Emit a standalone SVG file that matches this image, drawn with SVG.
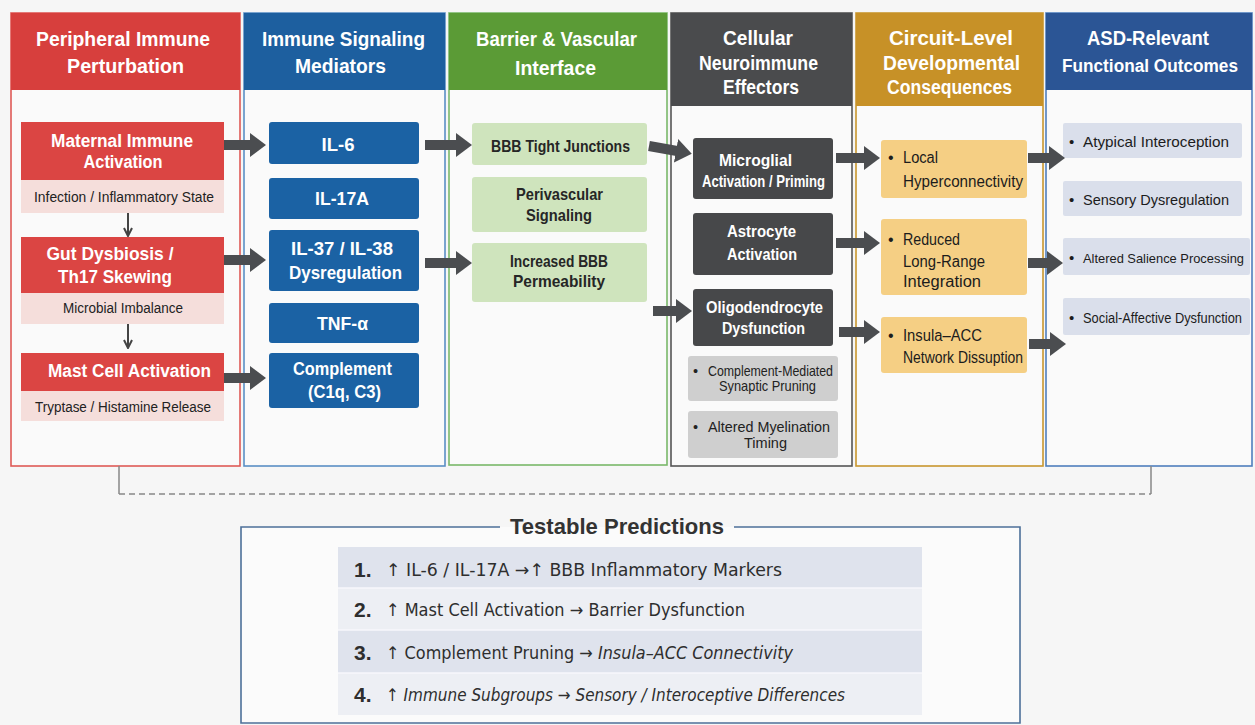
<svg xmlns="http://www.w3.org/2000/svg" width="1255" height="725" viewBox="0 0 1255 725">
<defs>
<marker id="ah" viewBox="0 0 16 24" markerWidth="16" markerHeight="24" refX="1" refY="12" orient="auto" markerUnits="userSpaceOnUse"><path d="M0,0 L16,12 L0,24 Z" fill="#4b4d50"/></marker>
<marker id="sh" viewBox="0 0 10 10" markerWidth="10" markerHeight="10" refX="9" refY="5" orient="auto" markerUnits="userSpaceOnUse"><path d="M1,1 L9,5 L1,9" fill="none" stroke="#444" stroke-width="2"/></marker>
<style>
text{font-family:"Liberation Sans",Arial,sans-serif}
.hdr{font-weight:bold;font-size:20px;fill:#fff;text-anchor:middle}
.hdrs{font-weight:bold;font-size:18px;fill:#fff;text-anchor:middle}
.wb{font-weight:bold;font-size:18px;fill:#fff;text-anchor:middle}
.wg{font-weight:bold;font-size:17px;fill:#fff;text-anchor:middle}
.sub{font-size:15.5px;fill:#222;text-anchor:middle}
.gb{font-weight:bold;font-size:17px;fill:#262626;text-anchor:middle}
.lg{font-size:14.5px;fill:#222}
.lgc{font-size:14.5px;fill:#222;text-anchor:middle}
.it{font-size:16px;fill:#1c1c1c}
.nv{font-size:15px;fill:#1c1c1c}
.nvs{font-size:14px;fill:#1c1c1c}
.nvx{font-size:13px;fill:#1c1c1c}
.body{fill:#fafafa;stroke-width:1.6}
.fat{stroke:#4b4d50;stroke-width:10;fill:none;marker-end:url(#ah)}
.thin{stroke:#444;stroke-width:2;fill:none;marker-end:url(#sh)}
.num{font-weight:bold;font-size:21px;fill:#2e2e2e}
.pr{font-family:"DejaVu Sans",sans-serif;font-size:17.5px;fill:#2e2e2e}
.pri{font-family:"DejaVu Sans",sans-serif;font-size:17.5px;fill:#2e2e2e;font-style:italic}
</style>
</defs>
<rect x="0" y="0" width="1255" height="725" fill="#f6f6f6"/>

<!-- Column 1 -->
<g id="col-peripheral">
<rect class="body" x="11" y="13" width="229" height="453" stroke="#df5a57"/>
<rect x="11" y="13" width="229" height="77" fill="#d73f3d"/>
<text class="hdr" x="123" y="46" textLength="174" lengthAdjust="spacingAndGlyphs">Peripheral Immune</text>
<text class="hdr" x="125.5" y="73" textLength="117" lengthAdjust="spacingAndGlyphs">Perturbation</text>
</g>
<g id="node-mia">
<rect x="21" y="122" width="203" height="58" fill="#db4543"/>
<rect x="21" y="180" width="203" height="33" fill="#f5dedb"/>
<text class="wb" x="122" y="147" textLength="142" lengthAdjust="spacingAndGlyphs">Maternal Immune</text>
<text class="wb" x="123" y="168" textLength="79" lengthAdjust="spacingAndGlyphs">Activation</text>
<text class="sub" x="124" y="202" textLength="180" lengthAdjust="spacingAndGlyphs">Infection / Inflammatory State</text>
</g>
<g id="node-gut">
<rect x="21" y="237" width="203" height="56" fill="#db4543"/>
<rect x="21" y="293" width="203" height="31" fill="#f5dedb"/>
<text class="wb" x="110" y="260" textLength="127" lengthAdjust="spacingAndGlyphs">Gut Dysbiosis /</text>
<text class="wb" x="115" y="283" textLength="114" lengthAdjust="spacingAndGlyphs">Th17 Skewing</text>
<text class="sub" x="123" y="313" textLength="120" lengthAdjust="spacingAndGlyphs">Microbial Imbalance</text>
</g>
<g id="node-mast">
<rect x="21" y="353" width="203" height="38" fill="#db4543"/>
<rect x="21" y="391" width="203" height="30" fill="#f5dedb"/>
<text class="wb" x="129.5" y="377" textLength="163" lengthAdjust="spacingAndGlyphs">Mast Cell Activation</text>
<text class="sub" x="123" y="412" textLength="176" lengthAdjust="spacingAndGlyphs">Tryptase / Histamine Release</text>
</g>

<!-- Column 2 -->
<g id="col-mediators">
<rect class="body" x="244" y="13" width="201" height="453" stroke="#5b8fc5"/>
<rect x="244" y="13" width="201" height="77" fill="#1d5f9f"/>
<text class="hdr" x="343.5" y="46" textLength="163" lengthAdjust="spacingAndGlyphs">Immune Signaling</text>
<text class="hdr" x="340.5" y="73" textLength="91" lengthAdjust="spacingAndGlyphs">Mediators</text>
</g>
<g id="node-il6"><rect x="269" y="122" width="150" height="42" rx="3" fill="#1b62a4"/>
<text class="wb" x="338" y="151" textLength="33" lengthAdjust="spacingAndGlyphs">IL-6</text></g>
<g id="node-il17"><rect x="269" y="178" width="150" height="41" rx="3" fill="#1b62a4"/>
<text class="wb" x="342" y="205" textLength="54" lengthAdjust="spacingAndGlyphs">IL-17A</text></g>
<g id="node-il37"><rect x="269" y="230" width="150" height="61" rx="3" fill="#1b62a4"/>
<text class="wb" x="342" y="255" textLength="102" lengthAdjust="spacingAndGlyphs">IL-37 / IL-38</text>
<text class="wb" x="345.5" y="279" textLength="113" lengthAdjust="spacingAndGlyphs">Dysregulation</text></g>
<g id="node-tnf"><rect x="269" y="303" width="150" height="40" rx="3" fill="#1b62a4"/>
<text class="wb" x="342.5" y="330" textLength="51" lengthAdjust="spacingAndGlyphs">TNF-α</text></g>
<g id="node-complement"><rect x="269" y="353" width="150" height="55" rx="3" fill="#1b62a4"/>
<text class="wb" x="342.5" y="375" textLength="99" lengthAdjust="spacingAndGlyphs">Complement</text>
<text class="wb" x="344.5" y="398" textLength="73" lengthAdjust="spacingAndGlyphs">(C1q, C3)</text></g>

<!-- Column 3 -->
<g id="col-barrier">
<rect class="body" x="449" y="13" width="218" height="452" stroke="#7ab86a"/>
<rect x="449" y="13" width="218" height="77" fill="#5b9b36"/>
<text class="hdr" x="556.5" y="46" textLength="161" lengthAdjust="spacingAndGlyphs">Barrier &amp; Vascular</text>
<text class="hdr" x="555.5" y="75" textLength="81" lengthAdjust="spacingAndGlyphs">Interface</text>
</g>
<g id="node-bbb"><rect x="472" y="123" width="175" height="42" rx="3" fill="#cfe4bd"/>
<text class="gb" x="560.5" y="152" textLength="139" lengthAdjust="spacingAndGlyphs">BBB Tight Junctions</text></g>
<g id="node-perivascular"><rect x="472" y="177" width="175" height="55" rx="3" fill="#cfe4bd"/>
<text class="gb" x="559.5" y="200" textLength="87" lengthAdjust="spacingAndGlyphs">Perivascular</text>
<text class="gb" x="559" y="221" textLength="66" lengthAdjust="spacingAndGlyphs">Signaling</text></g>
<g id="node-permeability"><rect x="472" y="243" width="175" height="59" rx="3" fill="#cfe4bd"/>
<text class="gb" x="559" y="267" textLength="98" lengthAdjust="spacingAndGlyphs">Increased BBB</text>
<text class="gb" x="559" y="287" textLength="92" lengthAdjust="spacingAndGlyphs">Permeability</text></g>

<!-- Column 4 -->
<g id="col-cellular">
<rect class="body" x="671" y="13" width="181" height="453" stroke="#555"/>
<rect x="671" y="13" width="181" height="93" fill="#4a4b4d"/>
<text class="hdr" x="758" y="45" textLength="70" lengthAdjust="spacingAndGlyphs">Cellular</text>
<text class="hdr" x="758.5" y="70" textLength="119" lengthAdjust="spacingAndGlyphs">Neuroimmune</text>
<text class="hdr" x="761" y="94" textLength="76" lengthAdjust="spacingAndGlyphs">Effectors</text>
</g>
<g id="node-microglia"><rect x="693" y="138" width="140" height="61" rx="3" fill="#47484a"/>
<text class="wg" x="755.5" y="166" textLength="73" lengthAdjust="spacingAndGlyphs">Microglial</text>
<text class="wg" x="763.5" y="187" textLength="123" lengthAdjust="spacingAndGlyphs">Activation / Priming</text></g>
<g id="node-astrocyte"><rect x="693" y="213" width="140" height="62" rx="3" fill="#47484a"/>
<text class="wg" x="761.5" y="237" textLength="69" lengthAdjust="spacingAndGlyphs">Astrocyte</text>
<text class="wg" x="762" y="260" textLength="70" lengthAdjust="spacingAndGlyphs">Activation</text></g>
<g id="node-oligo"><rect x="693" y="289" width="140" height="57" rx="3" fill="#47484a"/>
<text class="wg" x="764.5" y="313" textLength="117" lengthAdjust="spacingAndGlyphs">Oligodendrocyte</text>
<text class="wg" x="763.5" y="334" textLength="83" lengthAdjust="spacingAndGlyphs">Dysfunction</text></g>
<g id="node-pruning"><rect x="688" y="356" width="150" height="45" rx="3" fill="#cfcfcf"/>
<text class="lg" x="693" y="376">•</text>
<text class="lg" x="708" y="376" textLength="125" lengthAdjust="spacingAndGlyphs">Complement-Mediated</text>
<text class="lgc" x="767.5" y="391" textLength="97" lengthAdjust="spacingAndGlyphs">Synaptic Pruning</text></g>
<g id="node-myelination"><rect x="688" y="411" width="150" height="47" rx="3" fill="#cfcfcf"/>
<text class="lg" x="693" y="432">•</text>
<text class="lg" x="708" y="432" textLength="122" lengthAdjust="spacingAndGlyphs">Altered Myelination</text>
<text class="lgc" x="765.5" y="448" textLength="43" lengthAdjust="spacingAndGlyphs">Timing</text></g>

<!-- Column 5 -->
<g id="col-circuit">
<rect class="body" x="856" y="13" width="187" height="453" stroke="#c9972f"/>
<rect x="856" y="13" width="187" height="93" fill="#c79127"/>
<text class="hdr" x="951" y="45" textLength="124" lengthAdjust="spacingAndGlyphs">Circuit-Level</text>
<text class="hdr" x="951.5" y="70" textLength="137" lengthAdjust="spacingAndGlyphs">Developmental</text>
<text class="hdr" x="949.5" y="94" textLength="125" lengthAdjust="spacingAndGlyphs">Consequences</text>
</g>
<g id="node-local"><rect x="881" y="140" width="146" height="58" rx="3" fill="#f5cf84"/>
<text class="it" x="888" y="163">•</text>
<text class="it" x="903" y="163" textLength="35" lengthAdjust="spacingAndGlyphs">Local</text>
<text class="it" x="903" y="187" textLength="120" lengthAdjust="spacingAndGlyphs">Hyperconnectivity</text></g>
<g id="node-longrange"><rect x="881" y="219" width="146" height="76" rx="3" fill="#f5cf84"/>
<text class="it" x="888" y="245">•</text>
<text class="it" x="903" y="245" textLength="57" lengthAdjust="spacingAndGlyphs">Reduced</text>
<text class="it" x="903" y="267" textLength="82" lengthAdjust="spacingAndGlyphs">Long-Range</text>
<text class="it" x="903" y="287" textLength="78" lengthAdjust="spacingAndGlyphs">Integration</text></g>
<g id="node-insula"><rect x="881" y="317" width="146" height="56" rx="3" fill="#f5cf84"/>
<text class="it" x="888" y="341">•</text>
<text class="it" x="903" y="341" textLength="79" lengthAdjust="spacingAndGlyphs">Insula–ACC</text>
<text class="it" x="903" y="363" textLength="120" lengthAdjust="spacingAndGlyphs">Network Dissuption</text></g>

<!-- Column 6 -->
<g id="col-outcomes">
<rect class="body" x="1046" y="13" width="206" height="453" stroke="#4f7fbd"/>
<rect x="1046" y="13" width="206" height="77" fill="#2b5595"/>
<text class="hdr" x="1148" y="45" textLength="122" lengthAdjust="spacingAndGlyphs">ASD-Relevant</text>
<text class="hdrs" x="1150" y="72" textLength="176" lengthAdjust="spacingAndGlyphs">Functional Outcomes</text>
</g>
<g id="node-interoception"><rect x="1063" y="123" width="179" height="35" rx="2" fill="#dadfeb"/>
<text class="nv" x="1069" y="147">•</text>
<text class="nv" x="1083" y="147" textLength="146" lengthAdjust="spacingAndGlyphs">Atypical Interoception</text></g>
<g id="node-sensory"><rect x="1063" y="181" width="179" height="35" rx="2" fill="#dadfeb"/>
<text class="nv" x="1069" y="205">•</text>
<text class="nv" x="1083" y="205" textLength="146" lengthAdjust="spacingAndGlyphs">Sensory Dysregulation</text></g>
<g id="node-salience"><rect x="1063" y="238" width="187" height="37" rx="2" fill="#dadfeb"/>
<text class="nv" x="1069" y="263">•</text>
<text class="nvx" x="1083" y="263" textLength="161" lengthAdjust="spacingAndGlyphs">Altered Salience Processing</text></g>
<g id="node-social"><rect x="1063" y="298" width="187" height="37" rx="2" fill="#dadfeb"/>
<text class="nv" x="1069" y="323">•</text>
<text class="nvs" x="1083" y="323" textLength="159" lengthAdjust="spacingAndGlyphs">Social-Affective Dysfunction</text></g>

<!-- Connectors -->
<g id="connectors">
<line class="thin" x1="128" y1="213" x2="128" y2="236"/>
<line class="thin" x1="128" y1="324" x2="128" y2="348"/>
<line class="fat" x1="224" y1="145" x2="251" y2="145"/>
<line class="fat" x1="224" y1="260" x2="251" y2="260"/>
<line class="fat" x1="224" y1="378" x2="251" y2="378"/>
<line class="fat" x1="425" y1="145" x2="457" y2="145"/>
<line class="fat" x1="425" y1="263" x2="457" y2="263"/>
<line class="fat" x1="649" y1="146" x2="677" y2="151"/>
<line class="fat" x1="653" y1="311" x2="677" y2="311"/>
<line class="fat" x1="836" y1="158" x2="865" y2="158"/>
<line class="fat" x1="836" y1="243" x2="865" y2="243"/>
<line class="fat" x1="839" y1="332" x2="865" y2="332"/>
<line class="fat" x1="1028" y1="158" x2="1050" y2="158"/>
<line class="fat" x1="1028" y1="263" x2="1048" y2="263"/>
<line class="fat" x1="1029" y1="344" x2="1051" y2="344"/>
<path d="M119,466 V494 M1151,466 V494" stroke="#888" stroke-width="1.5" fill="none"/>
<path d="M119,494 H1151" stroke="#888" stroke-width="1.5" stroke-dasharray="6 4" fill="none"/>
</g>

<!-- Testable Predictions -->
<g id="predictions">
<path d="M500,527 H241 V723 H1020 V527 H734" fill="#fbfbfb" stroke="#4d7099" stroke-width="1.6"/>
<text x="617" y="534" font-weight="bold" font-size="22px" fill="#333" text-anchor="middle" textLength="214" lengthAdjust="spacingAndGlyphs">Testable Predictions</text>
<rect x="338" y="547" width="584" height="41" fill="#dfe3ed"/>
<rect x="338" y="588" width="584" height="42" fill="#edeff4"/>
<rect x="338" y="630" width="584" height="43" fill="#dfe3ed"/>
<rect x="338" y="673" width="584" height="42" fill="#edeff4"/>
<path d="M338,588 H922 M338,630 H922 M338,673 H922" stroke="#f7f8fb" stroke-width="1.5"/>
<text class="num" x="354" y="577">1.</text>
<text class="num" x="354" y="617">2.</text>
<text class="num" x="354" y="660">3.</text>
<text class="num" x="354" y="702">4.</text>
<text class="pr" x="386" y="576" textLength="396" lengthAdjust="spacingAndGlyphs">↑ IL-6 / IL-17A →↑ BBB Inflammatory Markers</text>
<text class="pr" x="386" y="616" textLength="359" lengthAdjust="spacingAndGlyphs">↑ Mast Cell Activation → Barrier Dysfunction</text>
<text class="pr" x="386" y="659" textLength="407" lengthAdjust="spacingAndGlyphs">↑ Complement Pruning → <tspan font-style="italic">Insula–ACC Connectivity</tspan></text>
<text class="pri" x="386" y="701" textLength="459" lengthAdjust="spacingAndGlyphs">↑ Immune Subgroups → Sensory / Interoceptive Differences</text>
</g>
</svg>
